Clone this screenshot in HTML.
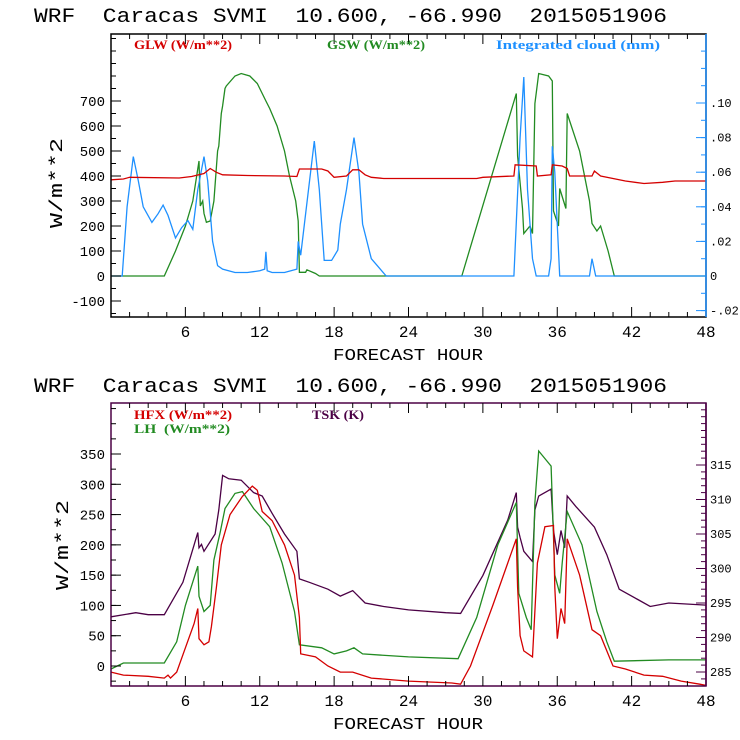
<!DOCTYPE html>
<html><head><meta charset="utf-8"><style>
html,body{margin:0;padding:0;background:#fff;width:740px;height:740px;overflow:hidden}
svg{display:block}
text{font-family:"Liberation Mono","DejaVu Sans Mono",monospace;white-space:pre}
</style></head><body>
<svg id="chart" width="740" height="740" viewBox="0 0 740 740" xmlns="http://www.w3.org/2000/svg"></svg>
<script>
// ---- top panel data (hour, value) ----
const glwHours = [0,1,1.5,5.5,6.5,7.5,8,8.5,9,11,14,15,15.2,17,17.5,18,19,19.5,20,20.5,21,22,29.5,30,32.5,32.6,34.3,34.4,35.5,35.6,36.4,36.8,37,38.8,39,39.5,40.5,41.5,43,44.5,45.5,48];
const glwValues = [385,388,395,392,398,410,430,415,405,402,400,398,428,428,420,395,400,425,425,405,395,390,390,395,400,445,440,400,405,445,440,430,400,400,420,400,390,380,370,375,380,380];
const gswHours = [0,4.3,5.2,6,6.6,7.1,7.2,7.4,7.5,7.7,8,8.3,8.6,8.7,8.9,9,9.2,9.3,10,10.5,11.2,11.8,12.5,12.8,13.4,14,14.4,14.9,15.1,15.2,15.7,15.8,16.5,16.8,28.3,32.7,32.8,33.2,33.3,33.8,34,34.2,34.5,35.3,35.6,35.7,36.1,36.2,36.7,36.8,37.8,38.6,38.8,39.2,39.5,40.1,40.6,48];
const gswValues = [0,0,100,200,300,460,280,300,250,215,220,300,500,520,650,680,750,760,800,810,800,770,700,670,600,500,400,300,220,15,15,25,10,0,0,730,480,270,170,200,170,690,810,800,780,260,200,350,270,650,500,300,210,180,200,100,0,0];
const cloudHours = [0,0.9,1.3,1.8,2.2,2.6,3.3,3.8,4.2,4.6,5.2,5.7,6.2,6.6,7,7.5,7.8,8.2,8.6,9,10,11,12,12.4,12.5,12.6,13,14,15,15.1,15.3,15.6,16.4,16.8,17.2,17.8,18.3,18.5,19,19.6,20,20.3,21,22.2,32.5,33,33.3,33.6,34,34.3,35.3,35.5,35.6,35.8,36.2,38.6,38.8,39.1,48];
const cloudValues = [0,0,0.04,0.069,0.055,0.04,0.031,0.036,0.041,0.035,0.022,0.028,0.032,0.027,0.05,0.069,0.055,0.02,0.006,0.004,0.002,0.002,0.003,0.004,0.014,0.003,0.002,0.002,0.004,0.02,0.012,0.03,0.078,0.05,0.009,0.009,0.015,0.03,0.05,0.08,0.06,0.03,0.01,0,0,0.08,0.115,0.05,0.01,0,0,0.01,0.075,0.06,0,0,0.01,0,0];
// ---- bottom panel data ----
const hfxHours = [0,1,3,4.3,4.6,4.8,5.3,6,6.7,7,7.1,7.5,7.9,8.1,8.5,8.9,9.6,10.6,11.4,11.8,12.2,13,14,14.8,15.2,15.3,16.5,17.5,18.5,19.5,21,24,27.5,28.2,29,30.8,32.7,32.8,33,33.3,34,34.4,35,35.7,35.8,36,36.3,36.6,36.8,37.8,38.8,39.5,40.5,41.5,43,44.5,46,47.5,48];
const hfxValues = [-10,-15,-17,-20,-15,-20,-10,30,70,95,45,35,40,65,130,200,250,280,297,290,255,240,200,150,80,20,15,0,-10,-10,-20,-25,-28,-30,0,100,210,130,50,25,15,170,230,232,130,45,95,70,210,150,60,50,0,-5,-15,-17,-25,-30,-32];
const lhHours = [0,1,4.3,5.3,6,7,7.1,7.5,8,8.3,8.8,9.2,10,10.6,11.5,12.8,13.8,14.8,15.2,17,18,19,19.6,20.3,24,28,29.5,31.2,32.7,32.9,33.5,33.9,34.2,34.5,35.5,35.8,36.2,36.4,36.8,38,39.2,40,40.6,45,48];
const lhValues = [-5,5,5,40,100,165,115,90,100,175,220,260,285,288,260,230,170,90,35,30,20,25,30,20,15,12,80,200,270,120,80,60,270,355,330,150,120,170,255,200,90,40,8,10,10];
const tskHours = [0,2,3,4.3,5.8,7,7.1,7.3,7.5,8.4,8.7,9,9.5,10.5,11.5,12.2,13,14,15,15.2,16,17.5,18.5,19.5,20.5,22,24,27,28.2,30,32,32.7,32.8,33,33.3,34,34.2,34.5,35.5,35.7,36,36.3,36.6,36.8,37.5,39,40,41,42.5,43.5,45,48];
const tskValues = [293,293.6,293.3,293.3,298,305.2,303,303.5,302.5,305,308.5,313.5,313,312.8,311,310.5,308,305,302.5,298.5,298,297,296,296.8,295,294.5,294,293.6,293.5,299,307,311,306,304.5,302.5,301,308.5,310.5,311.5,305.5,302,305.5,303,310.5,309,306,302,297,295.5,294.5,295,294.7];
const xTicks = [6,12,18,24,30,36,42,48];
const topLeftTicks = [-100,0,100,200,300,400,500,600,700];
const topRightTicks = [-0.02,0,0.02,0.04,0.06,0.08,0.10];
const topRightLabels = ['-.02','0','.02','.04','.06','.08','.10'];
const botLeftTicks = [0,50,100,150,200,250,300,350];
const botRightTicks = [285,290,295,300,305,310,315];

const svg = document.getElementById('chart');
const NS = 'http://www.w3.org/2000/svg';
function mk(tag, attrs, parent){const e=document.createElementNS(NS,tag);for(const k in attrs)e.setAttribute(k,attrs[k]);(parent||svg).appendChild(e);return e;}
const X0=111, X1=706;
const xs = h => X0 + (X1-X0)*h/48;

function panel(cfg){
  const g = mk('g',{});
  
  
  const t = mk('text',{x:34,y:cfg.titleY,'font-size':20,fill:'#000',textLength:633,lengthAdjust:'spacingAndGlyphs'},g);
  t.textContent='WRF  Caracas SVMI  10.600, -66.990  2015051906';
  
  
  cfg.series.forEach(s=>{
    let d='';
    s.h.forEach((h,i)=>{d+=(i?'L':'M')+xs(h).toFixed(1)+' '+s.y(s.v[i]).toFixed(1);});
    const p = mk('path',{d:d,fill:'none',stroke:s.color,'stroke-width':1.3},g);
    
    
  });
  const f = mk('rect',{x:X0,y:cfg.top,width:X1-X0,height:cfg.bot-cfg.top,fill:'none',stroke:cfg.frame,'stroke-width':1.5},g);
  
  
  mk('line',{x1:X1,y1:cfg.top,x2:X1,y2:cfg.bot,stroke:cfg.rightColor,'stroke-width':1.5},g);
  for(let h=1.5;h<48;h+=1.5){
    const len = (h%6===0)?10:5;
    mk('line',{x1:xs(h),y1:cfg.bot,x2:xs(h),y2:cfg.bot-len,stroke:'#000'},g);
    mk('line',{x1:xs(h),y1:cfg.top,x2:xs(h),y2:cfg.top+len,stroke:'#000'},g);
  }
  xTicks.forEach(h=>{
    const l = mk('text',{x:xs(h),y:cfg.bot+20,'font-size':16,'text-anchor':'middle',fill:'#000'},g);
    l.textContent=h;
    
    
  });
  const xt = mk('text',{x:333,y:cfg.bot+43,'font-size':17,fill:'#000',textLength:150,lengthAdjust:'spacingAndGlyphs'},g);
  xt.textContent='FORECAST HOUR';
  
  
  cfg.leftTicks.forEach(v=>{
    const y=cfg.yl(v);
    mk('line',{x1:X0,y1:y,x2:X0+10,y2:y,stroke:'#000'},g);
    const l = mk('text',{x:X0-6,y:y+5,'font-size':14,'text-anchor':'end',fill:'#000'},g);
    l.textContent=v;
    
    
  });
  for(let v=cfg.lmin;v<=cfg.lmax;v+=cfg.lminor){const y=cfg.yl(v);if(y>cfg.top&&y<cfg.bot)mk('line',{x1:X0,y1:y,x2:X0+5,y2:y,stroke:'#000'},g);}
  cfg.rightTicks.forEach((v,i)=>{
    const y=cfg.yr(v);
    mk('line',{x1:X1,y1:y,x2:X1-10,y2:y,stroke:cfg.rightColor},g);
    const l = mk('text',{x:X1+4,y:y+4,'font-size':12,fill:'#000'},g);
    l.textContent=cfg.rightLabels?cfg.rightLabels[i]:v;
    
    
  });
  for(let v=cfg.rmin;v<=cfg.rmax+1e-9;v+=cfg.rminor){const y=cfg.yr(v);if(y>cfg.top&&y<cfg.bot)mk('line',{x1:X1,y1:y,x2:X1-5,y2:y,stroke:cfg.rightColor},g);}
  const yt = mk('text',{x:0,y:0,'font-size':18,'text-anchor':'middle',fill:'#000',textLength:90,lengthAdjust:'spacingAndGlyphs',transform:`translate(${cfg.ytX},${cfg.ytY}) rotate(-90)`},g);
  yt.textContent='W/m**2';
  
  
  cfg.legend.forEach(L=>{
    const l = mk('text',{x:L.x,y:L.y,'font-size':13,'font-weight':'bold',fill:L.color,style:'font-family:"Liberation Serif",serif',textLength:L.len,lengthAdjust:'spacingAndGlyphs'},g);
    l.textContent=L.text;
    
    
  });
}

const ylTop = v => 276 - v*0.25;
const yrTop = v => 276 - v*1730;
panel({name:'radiation-panel',titleY:22,top:34,bot:317,frame:'#000',rightColor:'#1e90ff',
  yl:ylTop, yr:yrTop, leftTicks:topLeftTicks, rightTicks:topRightTicks, rightLabels:topRightLabels,
  lmin:-150,lmax:1000,lminor:50,rmin:-0.02,rmax:0.16,rminor:0.01,ytX:62,ytY:183,
  series:[
    {name:'gsw-line',h:gswHours,v:gswValues,y:ylTop,color:'#228b22'},
    {name:'cloud-line',h:cloudHours,v:cloudValues,y:yrTop,color:'#1e90ff'},
    {name:'glw-line',h:glwHours,v:glwValues,y:ylTop,color:'#d40000'}],
  legend:[{x:134,y:49,text:'GLW (W/m**2)',color:'#d40000',len:98},{x:327,y:49,text:'GSW (W/m**2)',color:'#228b22',len:98},{x:496,y:49,text:'Integrated cloud (mm)',color:'#1e90ff',len:164}]});

const ylBot = v => 666 - v*0.6057;
const yrBot = v => 672 - (v-285)*6.9;
panel({name:'flux-panel',titleY:392,top:403,bot:686,frame:'#4b0045',rightColor:'#4b0045',
  yl:ylBot, yr:yrBot, leftTicks:botLeftTicks, rightTicks:botRightTicks,
  lmin:-50,lmax:450,lminor:25,rmin:284,rmax:324,rminor:1,ytX:68,ytY:545,
  series:[
    {name:'tsk-line',h:tskHours,v:tskValues,y:yrBot,color:'#4b0045'},
    {name:'lh-line',h:lhHours,v:lhValues,y:ylBot,color:'#228b22'},
    {name:'hfx-line',h:hfxHours,v:hfxValues,y:ylBot,color:'#d40000'}],
  legend:[{x:134,y:419,text:'HFX (W/m**2)',color:'#d40000',len:98},{x:134,y:433,text:'LH  (W/m**2)',color:'#228b22',len:96},{x:312,y:419,text:'TSK (K)',color:'#4b0045',len:52}]});
</script>
</body></html>
